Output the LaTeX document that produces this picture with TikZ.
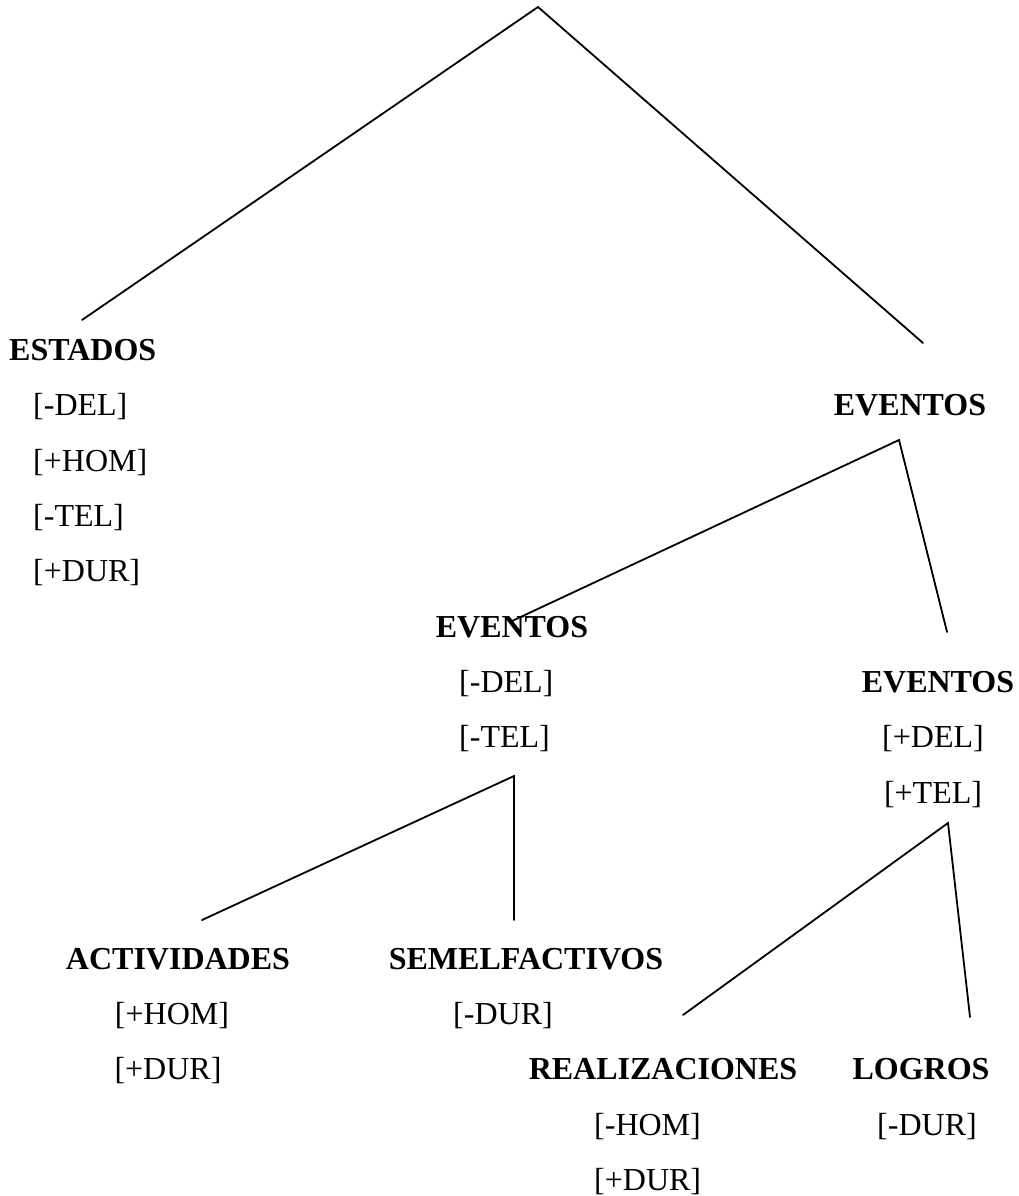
\documentclass[tikz,border=0pt]{standalone}
\usepackage{fontspec}
\setmainfont{Liberation Serif}
\begin{document}
\begin{tikzpicture}[x=1pt,y=-1pt,
  lbl/.style={inner sep=0pt,anchor=base,font=\fontsize{32}{38}\selectfont},
  hd/.style={lbl,font=\fontsize{32}{38}\selectfont\bfseries},
  br/.style={line width=1.8pt,line cap=round}]
\useasboundingbox (0,0) rectangle (1019,1196);
% rows (baselines)
\def\ra{360}\def\rb{415.5}\def\rc{471}\def\rd{526}\def\re{581.5}
\def\rf{637}\def\rg{692}\def\rh{747.5}\def\ri{803}
\def\rl{969}\def\rm{1024}\def\rn{1079.5}\def\ro{1135}\def\rp{1190}
% texts
\node[hd,anchor=base west] (estados) at (9,\ra) {ESTADOS};
\node[lbl,anchor=base west] (e1) at (33,\rb) {[-DEL]};
\node[lbl,anchor=base west] (e2) at (33,\rc) {[+HOM]};
\node[lbl,anchor=base west] (e3) at (33,\rd) {[-TEL]};
\node[lbl,anchor=base west] (e4) at (33,\re) {[+DUR]};
\node[hd] (eventos) at (910,\rb) {EVENTOS};
\node[hd] (eventosA) at (512,\rf) {EVENTOS};
\node[lbl,anchor=base west] (a1) at (459,\rg) {[-DEL]};
\node[lbl,anchor=base west] (a2) at (459,\rh) {[-TEL]};
\node[hd] (eventosB) at (938,\rg) {EVENTOS};
\node[lbl] (b1) at (933,\rh) {[+DEL]};
\node[lbl] (b2) at (933,\ri) {[+TEL]};
\node[hd] (act) at (178,\rl) {ACTIVIDADES};
\node[lbl] (act1) at (172,\rm) {[+HOM]};
\node[lbl] (act2) at (168,\rn) {[+DUR]};
\node[hd] (sem) at (526,\rl) {SEMELFACTIVOS};
\node[lbl] (sem1) at (503,\rm) {[-DUR]};
\node[hd] (real) at (663,\rn) {REALIZACIONES};
\node[lbl,anchor=base west] (real1) at (594,\ro) {[-HOM]};
\node[lbl,anchor=base west] (real2) at (594,\rp) {[+DUR]};
\node[hd] (log) at (921,\rn) {LOGROS};
\node[lbl] (log1) at (927,\ro) {[-DUR]};
% connector ends
\coordinate (top) at (538,7);
\coordinate (estTop) at (82,320);
\coordinate (evTop) at (923,343);
\coordinate (evFork) at (899,440);
\coordinate (evATop) at (512,621);
\coordinate (evBTop) at (947,632);
\coordinate (evAFork) at (514,776);
\coordinate (actTop) at (202,920);
\coordinate (semTop) at (514,920);
\coordinate (evBFork) at (948,823);
\coordinate (realTop) at (683,1015);
\coordinate (logTop) at (970,1017);
% connectors
\draw[br] (estTop) -- (top) -- (evTop);
\draw[br] (evATop) -- (evFork) -- (evBTop);
\draw[br] (actTop) -- (evAFork) -- (semTop);
\draw[br] (realTop) -- (evBFork) -- (logTop);
\end{tikzpicture}
\end{document}
